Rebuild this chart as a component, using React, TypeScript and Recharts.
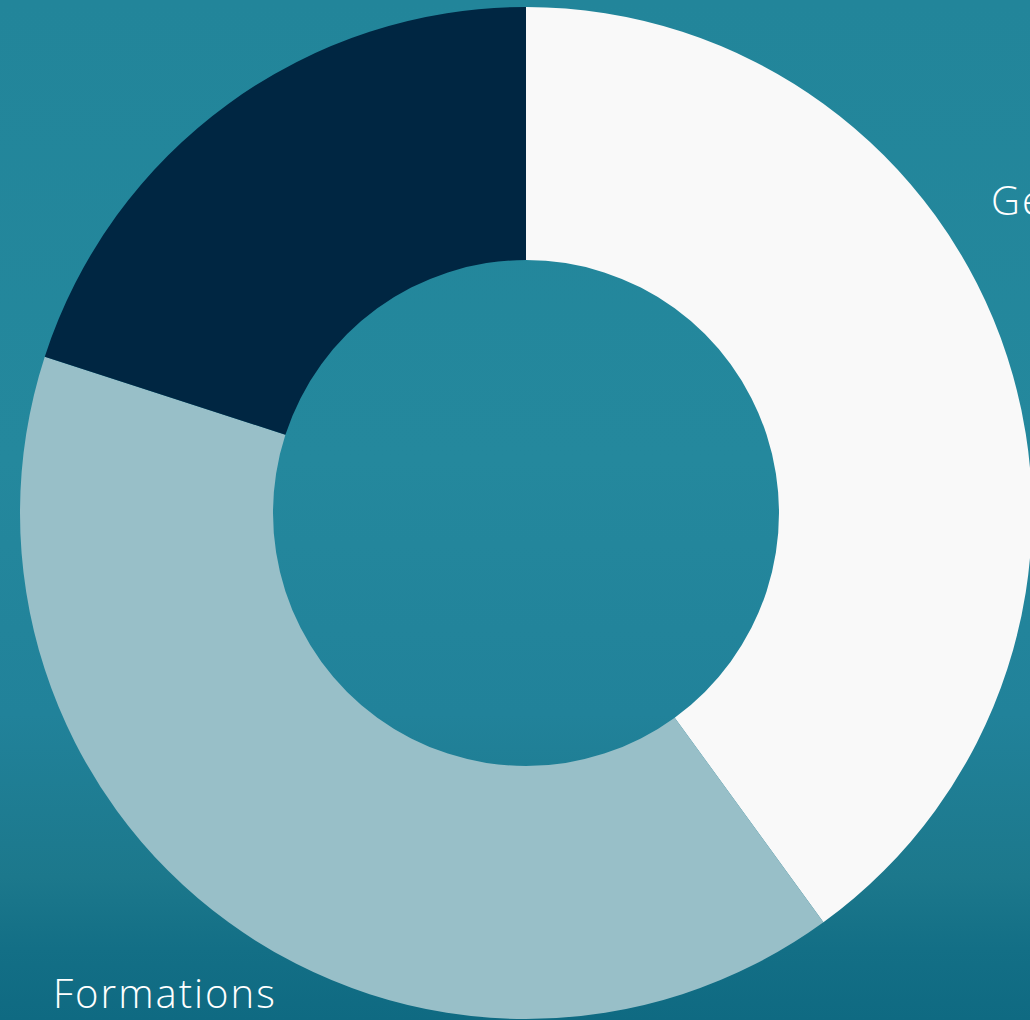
import React from 'react';
import { PieChart, Pie, Cell } from 'recharts';

const names = ['Gestion', 'Formations', 'Accompagnement'];
const shares = [40, 40, 20];
const colors = ['#f9f9f9', '#98bfc8', '#002642'];

const data = names.map((name, i) => ({ name, value: shares[i] }));

// label placement per slice (radius from centre, angle nudge in degrees, anchor)
const labelPlacement: Record<string, { r: number; nudge: number; anchor: 'start' | 'middle' | 'end' } | null> = {
  Gestion: { r: 561, nudge: 16, anchor: 'start' },
  Formations: { r: 600, nudge: -1, anchor: 'middle' },
  Accompagnement: null,
};

const RADIAN = Math.PI / 180;

const renderLabel = (props: any) => {
  const { cx, cy, midAngle, name } = props;
  const p = labelPlacement[name];
  if (!p) return null;
  const a = (midAngle + p.nudge) * RADIAN;
  const x = cx + p.r * Math.cos(a);
  const y = cy - p.r * Math.sin(a);
  return (
    <text
      x={x}
      y={y}
      fill="#ffffff"
      textAnchor={p.anchor}
      dominantBaseline="central"
      style={{ fontFamily: '"Open Sans", sans-serif', fontSize: 40, fontWeight: 300, letterSpacing: 2 }}
    >
      {name}
    </text>
  );
};

export default function App() {
  return (
    <div
      style={{
        position: 'fixed',
        left: 0,
        top: 0,
        width: 1030,
        height: 1020,
        overflow: 'hidden',
        background:
          'linear-gradient(180deg, #22859a 0%, #24889d 45%, #21829a 70%, #1c788c 86%, #136f86 93%, #0f6a82 100%)',
      }}
    >
      <PieChart
        width={1030}
        height={1020}
        margin={{ top: 0, right: 0, bottom: 0, left: 0 }}
        style={{ overflow: 'hidden' }}
      >
        <Pie
          data={data}
          dataKey="value"
          nameKey="name"
          cx={526}
          cy={513}
          innerRadius={253}
          outerRadius={506}
          startAngle={90}
          endAngle={-270}
          stroke="none"
          labelLine={false}
          label={renderLabel}
          isAnimationActive={false}
        >
          {data.map((d, i) => (
            <Cell key={d.name} fill={colors[i]} />
          ))}
        </Pie>
      </PieChart>
    </div>
  );
}
